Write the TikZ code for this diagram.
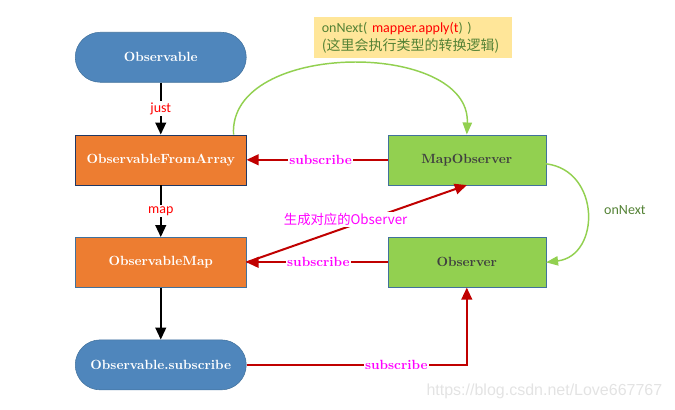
\documentclass[tikz,border=0pt]{standalone}
\usepackage{fontspec}
\newfontfamily\cnfont{Noto Sans CJK SC}
\newfontfamily\lblfont{Carlito}
\newfontfamily\wmfont{Liberation Sans}
\usetikzlibrary{arrows.meta, positioning, calc}

\definecolor{obsblue}{RGB}{79,134,188}
\definecolor{obsedge}{RGB}{65,113,156}
\definecolor{maporange}{RGB}{237,125,49}
\definecolor{navyedge}{RGB}{32,56,100}
\definecolor{obsgreen}{RGB}{146,208,80}
\definecolor{darkred}{RGB}{192,0,0}
\definecolor{notegreen}{RGB}{84,130,53}
\definecolor{notefill}{RGB}{255,230,153}
\definecolor{labelpink}{RGB}{255,0,255}
\definecolor{labelred}{RGB}{255,0,0}

\begin{document}
\begin{tikzpicture}[
  pill/.style   = {draw=obsedge, fill=obsblue, rounded corners=18.75pt, minimum height=37.5pt, minimum width=128.25pt, text=white, font=\bfseries},
  block/.style  = {draw=obsedge, fill=maporange, minimum height=37.5pt, minimum width=128.25pt, text=white, font=\bfseries},
  gblock/.style = {draw=obsedge, fill=obsgreen, minimum height=37.5pt, minimum width=118.5pt, text=black!75, font=\bfseries},
  note/.style   = {fill=notefill, text width=137pt, inner xsep=6pt, inner ysep=3pt, minimum height=31pt, align=left, font=\fontsize{10.5}{13.5}\selectfont},
  arrow/.style  = {line width=1.5pt, -{Triangle[width=8pt,length=9pt]}},
  redarrow/.style   = {darkred, line width=1.5pt, -{Triangle[width=8pt,length=9pt]}},
  greenarrow/.style = {obsgreen, line width=1.1pt, -{Triangle[width=7pt,length=9pt]}},
  sub/.style = {text=labelpink, fill=white, font=\bfseries, inner sep=1pt},
  lbl/.style = {text=labelred, fill=white, font=\lblfont\fontsize{10.5}{12}\selectfont, inner sep=1pt},
  node distance=39pt and 105.75pt
]

  % left column
  \node[pill] (obs) {Observable};
  \node[block, draw=navyedge, below=of obs] (fromarray) {ObservableFromArray};
  \node[block, below=of fromarray] (obsmap) {ObservableMap};
  \node[pill, below=of obsmap] (obssub) {Observable.subscribe};

  % right column
  \node[gblock, right=of fromarray] (mapobs) {MapObserver};
  \node[gblock, right=of obsmap] (observer) {Observer};

  % picture frame
  \coordinate (bbtl) at ($(obs.north west)+(-56.25pt,24pt)$);
  \coordinate (bbbr) at ($(bbtl)+(506.25pt,-307.5pt)$);
  \useasboundingbox (bbtl) rectangle (bbbr);

  % note above MapObserver
  \node[note, anchor=south west] (note) at ($(mapobs.north west)+(-55.5pt,57pt)$) {%
    {\lblfont\color{notegreen}onNext( \textcolor{labelred}{mapper.apply(t}) )}\\
    {\cnfont\color{notegreen}(这里会执行类型的转换逻辑)}};

  % black arrows down the left column
  \draw[arrow] (obs.south) -- node[lbl] {just} (fromarray.north);
  \draw[arrow] (fromarray.south) -- node[lbl] {map} (obsmap.north);
  \draw[arrow] (obsmap.south) -- (obssub.north);

  % subscribe arrows
  \draw[redarrow] (mapobs.west) -- node[sub, pos=0.475] {subscribe} (fromarray.east);
  \draw[redarrow] (observer.west) -- node[sub, pos=0.49] {subscribe} (obsmap.east);
  \draw[redarrow] (obssub.east) -| node[sub, pos=0.34] {subscribe} (observer.south);

  % new observer
  \draw[redarrow] (obsmap.east) -- node[pos=0.45, yshift=6pt, fill=white, inner sep=1pt, text=labelpink, font=\cnfont] {生成对应的Observer} (mapobs.south);

  % onNext curves
  \coordinate (curvestart) at ($(fromarray.north east)+(-9.75pt,0)$);
  \draw[greenarrow] (curvestart) .. controls +(-4pt,71pt) and +(3pt,71pt) .. (mapobs.north);
  \draw[greenarrow] ($(mapobs.east)+(0,-3pt)$) .. controls +(41pt,-5pt) and +(41pt,5pt) .. (observer.east)
    node[midway, right=9pt, yshift=2pt, text=notegreen, font=\lblfont\fontsize{10.5}{12}\selectfont] {onNext};

  % watermark
  \node[anchor=east, text=black!11, font=\wmfont\fontsize{12}{14}\selectfont] (mark) at ($(bbbr)+(-6pt,14.25pt)$) {https://blog.csdn.net/Love667767};

\end{tikzpicture}
\end{document}
